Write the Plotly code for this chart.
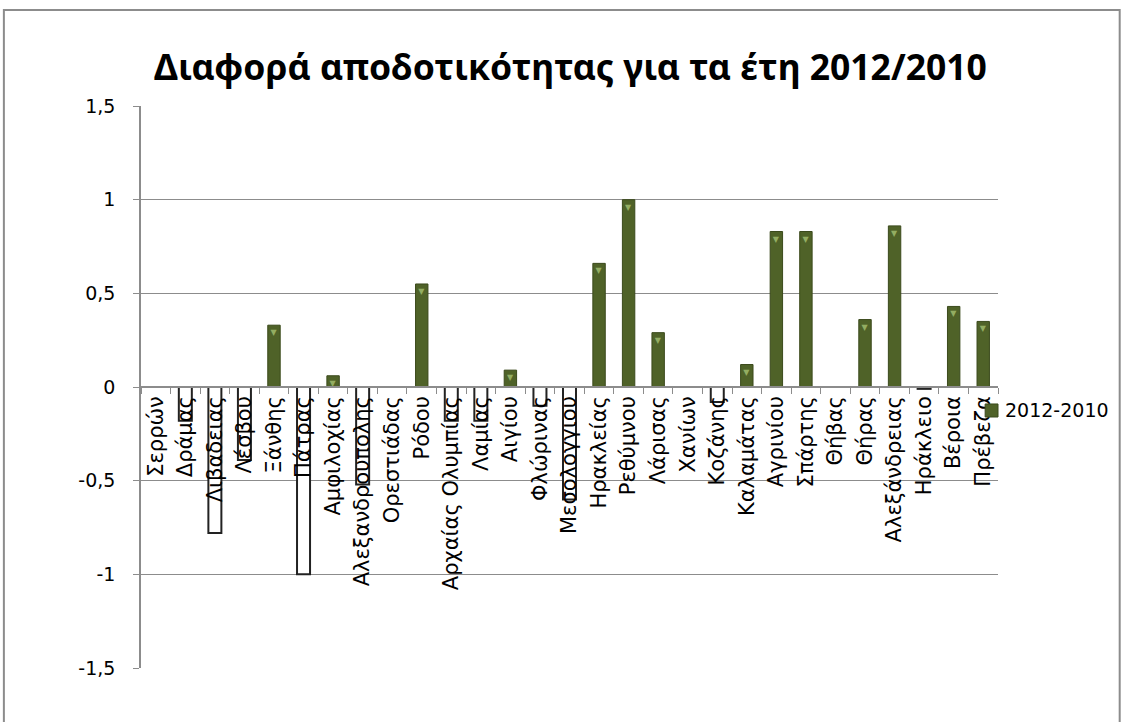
import plotly.graph_objects as go

categories = ["Σερρών", "Δράμας", "Λιβαδειας", "Λέσβου", "Ξάνθης", "Πάτρας",
              "Αμφιλοχίας", "Αλεξανδρουπολης", "Ορεστιάδας", "Ρόδου",
              "Αρχαίας Ολυμπίας", "Λαμίας", "Αιγίου", "Φλώρινας", "Μεσολογγιου",
              "Ηρακλείας", "Ρεθύμνου", "Λάρισας", "Χανίων", "Κοζάνης",
              "Καλαμάτας", "Αγρινίου", "Σπάρτης", "Θήβας", "Θήρας",
              "Αλεξάνδρειας", "Ηράκλειο", "Βέροια", "Πρέβεζα"]
diff_2012_2010 = [0.0, -0.18, -0.78, -0.39, 0.33, -1.0,
                  0.06, -0.52, 0.0, 0.55,
                  -0.18, -0.18, 0.09, -0.10, -0.60,
                  0.66, 1.0, 0.29, 0.0, -0.08,
                  0.12, 0.83, 0.83, 0.0, 0.36,
                  0.86, -0.01, 0.43, 0.35]
y_ticks = [-1.5, -1, -0.5, 0, 0.5, 1, 1.5]
y_tick_text = ["-1,5", "-1", "-0,5", "0", "0,5", "1", "1,5"]
series_name = "2012-2010"

BAR_GREEN = "#4F6228"
GRID = "#8c8c8c"

pos_vals = [v if v > 0 else None for v in diff_2012_2010]
neg_vals = [v if v < 0 else None for v in diff_2012_2010]

fig = go.Figure()
# positive bars, with the small bevel highlight at the top end of each bar
fig.add_trace(go.Bar(
    x=categories, y=pos_vals, name=series_name, width=0.42,
    marker=dict(color=BAR_GREEN, line=dict(color="#3B4A1C", width=1)),
    text=["▼" if v is not None else "" for v in pos_vals],
    textposition="inside", insidetextanchor="end", textangle=0,
    constraintext="none",
    textfont=dict(family="DejaVu Sans", size=8, color="#93AD62"),
    showlegend=False,
))
# negative differences drawn inverted: white fill, dark outline
fig.add_trace(go.Bar(
    x=categories, y=neg_vals, name=series_name, width=0.44,
    marker=dict(color="white", line=dict(color="#222222", width=2)),
    showlegend=False,
))

fig.update_layout(
    width=1123, height=722,
    paper_bgcolor="white", plot_bgcolor="white",
    margin=dict(l=141, r=125, t=106, b=54),
    barmode="overlay",
    title=dict(text="<b>Διαφορά αποδοτικότητας για τα έτη 2012/2010</b>",
               x=0.508, xanchor="center", y=0.907, yanchor="middle",
               font=dict(family="Noto Sans", size=35.5, color="black")),
    font=dict(family="DejaVu Sans", color="black"),
    showlegend=False,
    xaxis=dict(
        type="category", anchor="free", position=0.5,
        showline=True, linecolor=GRID, linewidth=1.5,
        ticks="outside", tickson="boundaries", ticklen=6, tickcolor=GRID,
        tickangle=-90, tickfont=dict(family="DejaVu Sans", size=21, color="black"),
        showgrid=False, range=[-0.5, len(categories) - 0.5],
    ),
    yaxis=dict(
        range=[-1.5, 1.5], tickvals=y_ticks, ticktext=y_tick_text,
        showline=True, linecolor=GRID, linewidth=1.5,
        ticks="outside", ticklen=6, tickcolor=GRID, ticklabelstandoff=14,
        showgrid=True, gridcolor=GRID, gridwidth=1, zeroline=False,
        tickfont=dict(family="DejaVu Sans", size=19, color="black"),
    ),
    shapes=[
        dict(type="rect", xref="paper", yref="paper",
             x0=-0.16, x1=1.142, y0=-0.3, y1=1.171,
             line=dict(color=GRID, width=2), layer="below"),
        # legend swatch
        dict(type="rect", xref="paper", yref="paper",
             x0=0.985, x1=1.0, y0=0.4466, y1=0.4698,
             fillcolor=BAR_GREEN, line=dict(color="#3B4A1C", width=1)),
    ],
    annotations=[dict(text=series_name, xref="paper", yref="paper",
                      x=1.0058, y=0.4582, xanchor="left", yanchor="middle",
                      showarrow=False,
                      font=dict(family="DejaVu Sans", size=19, color="black"))],
)

fig.write_html("out.html")
